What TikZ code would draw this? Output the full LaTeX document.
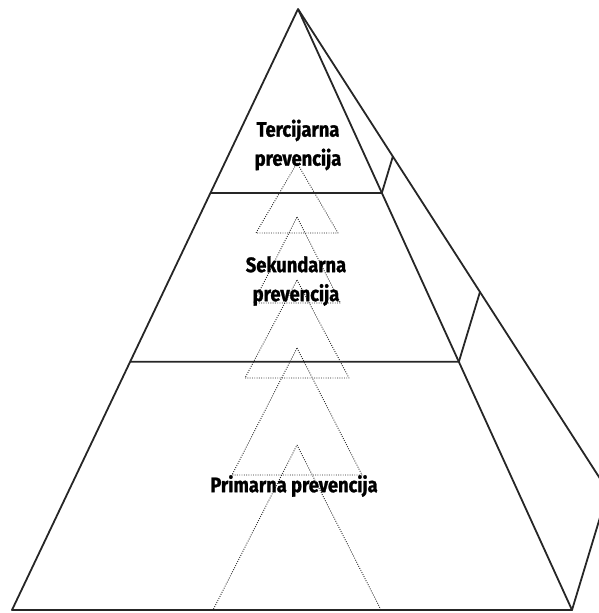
\documentclass[tikz,border=0pt]{standalone}
\usepackage{fontspec}
\newfontfamily\levelfont[FakeStretch=0.87,FakeBold=1.2]{Fira Sans}
\usetikzlibrary{calc}

\begin{document}
\begin{tikzpicture}[x=1pt,y=-1pt,line join=round]
    \tikzstyle{edge}=[draw=black!85,line width=1.8pt]
    \tikzstyle{ghost}=[draw=black!85,line width=0.9pt,dash pattern=on 0.9pt off 1.4pt]
    \tikzstyle{caption}=[font=\levelfont\bfseries\fontsize{21}{29}\selectfont,align=center,text=black,inner sep=0pt]
    \useasboundingbox (0,0) rectangle (599,613);
    \clip (0,0) rectangle (599,613);

    \coordinate (A) at (298,9);
    \coordinate (FL) at (12,610);
    \coordinate (FR) at (572,610);
    \coordinate (BR) at (608,491);

    % dotted inner triangles
    \foreach \i/\top/\base/\half in {1/163/233/41, 2/217/303/43.5, 3/280/378/52, 4/348/475/65, 5/445/610/84} {
        \coordinate (T-\i) at (297,\top);
        \coordinate (TL-\i) at (297-\half,\base);
        \coordinate (TR-\i) at (297+\half,\base);
        \draw[ghost] (T-\i) -- (TR-\i) -- (TL-\i) -- cycle;
    }

    % faces of the pyramid
    \draw[edge] (FL) -- (A) -- (FR) -- cycle;
    \draw[edge] (A) -- (BR) -- (FR);

    % level cuts
    \foreach \lev/\t in {1/0.306, 2/0.587} {
        \coordinate (L-\lev) at ($(A)!\t!(FL)$);
        \coordinate (R-\lev) at ($(A)!\t!(FR)$);
        \coordinate (B-\lev) at ($(A)!\t!(BR)$);
        \draw[edge] (L-\lev) -- (R-\lev) -- (B-\lev);
    }

    \node[caption] (tert) at (298,145) {Tercijarna\\prevencija};
    \node[caption] (sec) at (296,281) {Sekundarna\\prevencija};
    \node[caption] (prim) at (294,486) {Primarna prevencija};
\end{tikzpicture}
\end{document}
